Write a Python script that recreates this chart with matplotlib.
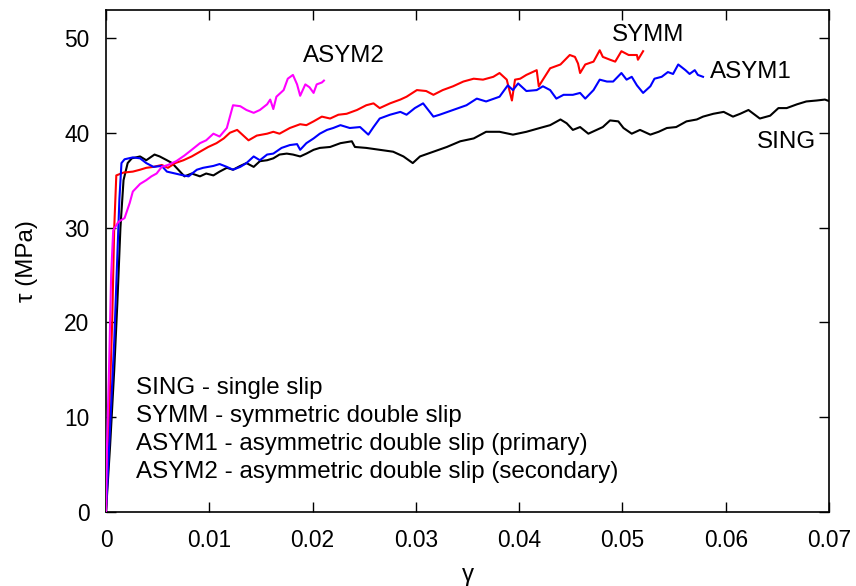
import matplotlib
matplotlib.use("Agg")
import matplotlib.pyplot as plt

plt.rcParams['font.family'] = ['Liberation Sans', 'DejaVu Sans']

# Shear stress–strain curves (gamma, tau in MPa)
sing_gamma = [0.0, 0.0004, 0.0008, 0.0011, 0.0014, 0.0017, 0.0021, 0.0025, 0.0033, 0.0039,
              0.0047, 0.0052, 0.0059, 0.0064, 0.0070, 0.0076, 0.0083, 0.0091, 0.0097, 0.0104,
              0.0110, 0.0117, 0.0123, 0.0130, 0.0136, 0.0143, 0.0149, 0.0156, 0.0162, 0.0168,
              0.0175, 0.0181, 0.0188, 0.0194, 0.0201, 0.0207, 0.0217, 0.0227, 0.0238, 0.0241,
              0.0252, 0.0265, 0.0278, 0.0288, 0.0297, 0.0304, 0.0317, 0.0330, 0.0343, 0.0356,
              0.0368, 0.0381, 0.0394, 0.0407, 0.0420, 0.0430, 0.0440, 0.0446, 0.0452, 0.0459,
              0.0467, 0.0475, 0.0481, 0.0488, 0.0496, 0.0501, 0.0509, 0.0517, 0.0527, 0.0535,
              0.0543, 0.0552, 0.0562, 0.0572, 0.0578, 0.0588, 0.0598, 0.0607, 0.0614, 0.0622,
              0.0633, 0.0643, 0.0651, 0.0659, 0.0669, 0.0678, 0.0688, 0.0696, 0.0701]
sing_tau = [0.0, 7.0, 15.0, 22.0, 30.0, 35.0, 36.8, 37.3, 37.5, 37.1,
            37.7, 37.5, 37.1, 36.8, 36.1, 35.4, 35.7, 35.4, 35.7, 35.5,
            35.9, 36.3, 36.1, 36.5, 36.8, 36.4, 37.0, 37.1, 37.3, 37.7,
            37.8, 37.7, 37.5, 37.8, 38.2, 38.4, 38.5, 38.9, 39.1, 38.5,
            38.4, 38.2, 38.0, 37.5, 36.8, 37.5, 38.0, 38.5, 39.1, 39.4,
            40.1, 40.1, 39.8, 40.1, 40.5, 40.8, 41.4, 41.0, 40.3, 40.6,
            39.9, 40.3, 40.6, 41.3, 41.2, 40.5, 39.9, 40.3, 39.8, 40.1,
            40.5, 40.6, 41.2, 41.4, 41.7, 42.0, 42.2, 41.7, 42.0, 42.4,
            41.5, 41.8, 42.6, 42.6, 43.0, 43.3, 43.4, 43.5, 43.3]

symm_gamma = [0.0, 0.0003, 0.0006, 0.0008, 0.0010, 0.0017, 0.0026, 0.0033, 0.0039, 0.0046,
              0.0054, 0.0060, 0.0067, 0.0075, 0.0083, 0.0091, 0.0099, 0.0107, 0.0114, 0.0120,
              0.0127, 0.0131, 0.0138, 0.0146, 0.0156, 0.0162, 0.0168, 0.0178, 0.0188, 0.0194,
              0.0201, 0.0209, 0.0217, 0.0225, 0.0233, 0.0243, 0.0252, 0.0259, 0.0265, 0.0275,
              0.0285, 0.0291, 0.0301, 0.0310, 0.0317, 0.0326, 0.0336, 0.0346, 0.0356, 0.0365,
              0.0375, 0.0381, 0.0388, 0.0393, 0.0396, 0.0401, 0.0407, 0.0417, 0.0419, 0.0423,
              0.0430, 0.0440, 0.0449, 0.0454, 0.0457, 0.0459, 0.0464, 0.0472, 0.0478, 0.0481,
              0.0488, 0.0493, 0.0499, 0.0506, 0.0514, 0.0515, 0.0520]
symm_tau = [0.0, 10.0, 20.0, 30.0, 35.5, 35.8, 35.9, 36.1, 36.3, 36.4,
            36.6, 36.3, 36.8, 37.1, 37.5, 38.0, 38.5, 38.9, 39.4, 40.0,
            40.3, 39.9, 39.2, 39.7, 39.9, 40.1, 39.9, 40.5, 40.9, 40.8,
            41.2, 41.7, 41.5, 41.9, 42.0, 42.4, 42.9, 43.1, 42.6, 43.1,
            43.5, 43.8, 44.5, 44.4, 44.0, 44.5, 44.9, 45.4, 45.7, 45.6,
            45.9, 46.3, 45.6, 43.4, 45.6, 45.7, 46.1, 46.6, 44.9, 45.6,
            46.8, 47.2, 48.2, 48.0, 47.3, 46.3, 47.2, 47.5, 48.7, 48.0,
            47.7, 47.5, 48.6, 48.2, 48.2, 47.7, 48.6]

asym1_gamma = [0.0, 0.0004, 0.0008, 0.0011, 0.0013, 0.0015, 0.0018, 0.0026, 0.0033, 0.0039,
               0.0046, 0.0054, 0.0059, 0.0067, 0.0075, 0.0080, 0.0088, 0.0094, 0.0104, 0.0110,
               0.0117, 0.0123, 0.0130, 0.0136, 0.0143, 0.0149, 0.0156, 0.0162, 0.0170, 0.0178,
               0.0185, 0.0188, 0.0194, 0.0201, 0.0207, 0.0214, 0.0220, 0.0227, 0.0236, 0.0246,
               0.0254, 0.0259, 0.0265, 0.0275, 0.0285, 0.0291, 0.0299, 0.0307, 0.0317, 0.0323,
               0.0336, 0.0349, 0.0359, 0.0368, 0.0381, 0.0389, 0.0394, 0.0399, 0.0407, 0.0417,
               0.0423, 0.0430, 0.0436, 0.0443, 0.0452, 0.0459, 0.0464, 0.0472, 0.0478, 0.0485,
               0.0491, 0.0499, 0.0504, 0.0509, 0.0514, 0.0520, 0.0527, 0.0531, 0.0538, 0.0544,
               0.0549, 0.0554, 0.0561, 0.0565, 0.0570, 0.0573, 0.0578]
asym1_tau = [0.0, 9.0, 18.0, 27.0, 33.0, 36.8, 37.2, 37.4, 37.3, 36.8,
             36.4, 36.5, 35.9, 35.7, 35.5, 35.4, 36.1, 36.3, 36.5, 36.7,
             36.4, 36.1, 36.4, 36.8, 37.5, 37.1, 37.7, 37.8, 38.4, 38.7,
             38.8, 38.2, 38.9, 39.4, 39.9, 40.3, 40.5, 40.8, 40.5, 40.6,
             39.8, 40.6, 41.5, 41.9, 42.2, 41.9, 42.6, 43.1, 41.7, 41.9,
             42.4, 42.9, 43.6, 43.3, 43.8, 45.0, 44.5, 45.2, 44.4, 44.5,
             44.9, 44.5, 43.6, 44.0, 44.0, 44.2, 43.6, 44.5, 45.6, 45.4,
             45.4, 46.3, 45.6, 45.9, 45.0, 44.2, 44.9, 45.7, 45.9, 46.4,
             46.2, 47.2, 46.6, 46.2, 46.6, 46.1, 45.9]

asym2_gamma = [0.0, 0.0001, 0.0003, 0.0005, 0.0007, 0.0012, 0.0018, 0.0023, 0.0026, 0.0033,
               0.0039, 0.0044, 0.0049, 0.0054, 0.0060, 0.0068, 0.0076, 0.0083, 0.0091, 0.0097,
               0.0104, 0.0110, 0.0117, 0.0120, 0.0123, 0.0130, 0.0136, 0.0143, 0.0149, 0.0156,
               0.0159, 0.0162, 0.0165, 0.0172, 0.0176, 0.0181, 0.0185, 0.0188, 0.0193, 0.0197,
               0.0201, 0.0204, 0.0209, 0.0211]
asym2_tau = [0.0, 7.0, 15.3, 25.0, 29.7, 30.6, 31.0, 32.6, 33.8, 34.6,
             35.0, 35.4, 35.7, 36.4, 36.6, 37.0, 37.6, 38.2, 38.9, 39.2,
             39.9, 39.6, 40.5, 41.7, 42.9, 42.8, 42.4, 42.1, 42.4, 43.0,
             43.5, 42.5, 43.8, 44.5, 45.7, 46.1, 45.1, 43.9, 45.1, 44.8,
             44.2, 45.1, 45.3, 45.5]

series = [
    ("SING", sing_gamma, sing_tau, "black"),
    ("SYMM", symm_gamma, symm_tau, "#ff0000"),
    ("ASYM1", asym1_gamma, asym1_tau, "#0000ff"),
    ("ASYM2", asym2_gamma, asym2_tau, "#ff00ff"),
]

curve_labels = {"ASYM2": (0.0230, 48.1), "SYMM": (0.0525, 50.35),
                "ASYM1": (0.0624, 46.45), "SING": (0.0659, 39.05)}

notes = ["SING - single slip",
         "SYMM - symmetric double slip",
         "ASYM1 - asymmetric double slip (primary)",
         "ASYM2 - asymmetric double slip (secondary)"]

x_ticks = [0, 0.01, 0.02, 0.03, 0.04, 0.05, 0.06, 0.07]
x_tick_labels = ["0", "0.01", "0.02", "0.03", "0.04", "0.05", "0.06", "0.07"]
y_ticks = [0, 10, 20, 30, 40, 50]

fig = plt.figure(figsize=(8.56, 5.86), dpi=100)
ax = fig.add_axes([0.1238, 0.1263, 0.8447, 0.8567])

for name, g, t, c in series:
    ax.plot(g, t, color=c, lw=1.5, zorder=3)

for name, (gx, ty) in curve_labels.items():
    ax.text(gx, ty, name, fontsize=17.4, ha="center", va="center")

for i, line in enumerate(notes):
    ax.text(0.0029, 13.05 - i * 2.93, line, fontsize=17.4, ha="left", va="center")

ax.set_xlim(0, 0.07)
ax.set_ylim(0, 52.95)
ax.set_xticks(x_ticks)
ax.set_xticklabels(x_tick_labels)
ax.set_yticks(y_ticks)
ax.tick_params(direction="in", length=7, width=1.0, labelsize=16.4,
               top=True, right=True, pad=12)
for s in ax.spines.values():
    s.set_linewidth(1.2)

ax.set_xlabel("γ", fontsize=17.4, labelpad=9)
ax.set_ylabel("τ (MPa)", fontsize=17.4, labelpad=19)

fig.savefig("out.png", dpi=100)
